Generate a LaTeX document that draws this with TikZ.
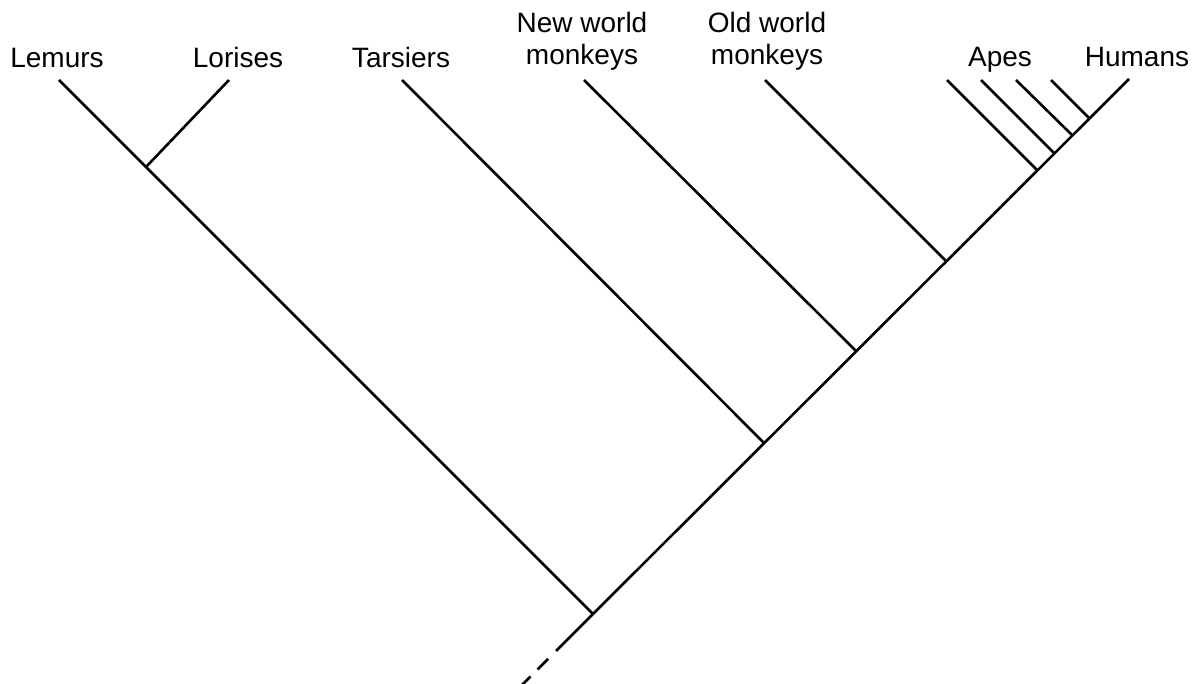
\documentclass[tikz,border=0pt]{standalone}
\usepackage{fontspec}
\setmainfont{Liberation Sans}
\begin{document}
\begin{tikzpicture}[x=1pt,y=-1pt,
  branch/.style={line width=2.6pt},
  lbl/.style={font=\fontsize{28}{32}\selectfont, anchor=base, inner sep=0pt, align=center}]
\useasboundingbox (0,0) rectangle (1197,684);
% labels
\node[lbl] (lem) at (57,68) {Lemurs};
\node[lbl] (lor) at (238,68) {Lorises};
\node[lbl] (tar) at (401,68) {Tarsiers};
\node[lbl] (nwm) at (582,65) {New world\\monkeys};
\node[lbl] (owm) at (767,65) {Old world\\monkeys};
\node[lbl] (ape) at (1000,67) {Apes};
\node[lbl] (hum) at (1137,67) {Humans};
% tips
\coordinate (tLem) at (59,80);
\coordinate (tLor) at (229,80);
\coordinate (tTar) at (402,80);
\coordinate (tNwm) at (584,80);
\coordinate (tOwm) at (765,80);
\coordinate (tA1) at (947,80);
\coordinate (tA2) at (981,80);
\coordinate (tA3) at (1016,80);
\coordinate (tA4) at (1051,80);
\coordinate (tHum) at (1129,79);
% junctions
\coordinate (root) at (593,614);
\coordinate (jLor) at (146,167);
\coordinate (jTar) at (764,443);
\coordinate (jNwm) at (856,351);
\coordinate (jOwm) at (946,261);
\coordinate (jA1) at (1037,170);
\coordinate (jA2) at (1054,153);
\coordinate (jA3) at (1072,135);
\coordinate (jA4) at (1089,118);
\coordinate (dStart) at (556,651);
\coordinate (dEnd) at (519,688);
% branches
\draw[branch] (tLem) -- (root);
\draw[branch] (tLor) -- (jLor);
\draw[branch] (root) -- (tHum);
\draw[branch] (tTar) -- (jTar);
\draw[branch] (tNwm) -- (jNwm);
\draw[branch] (tOwm) -- (jOwm);
\draw[branch] (tA1) -- (jA1);
\draw[branch] (tA2) -- (jA2);
\draw[branch] (tA3) -- (jA3);
\draw[branch] (tA4) -- (jA4);
\draw[branch] (root) -- (dStart);
\draw[branch, dash pattern=on 0pt off 11pt on 15pt off 10pt on 30pt] (dStart) -- (dEnd);
\end{tikzpicture}
\end{document}
